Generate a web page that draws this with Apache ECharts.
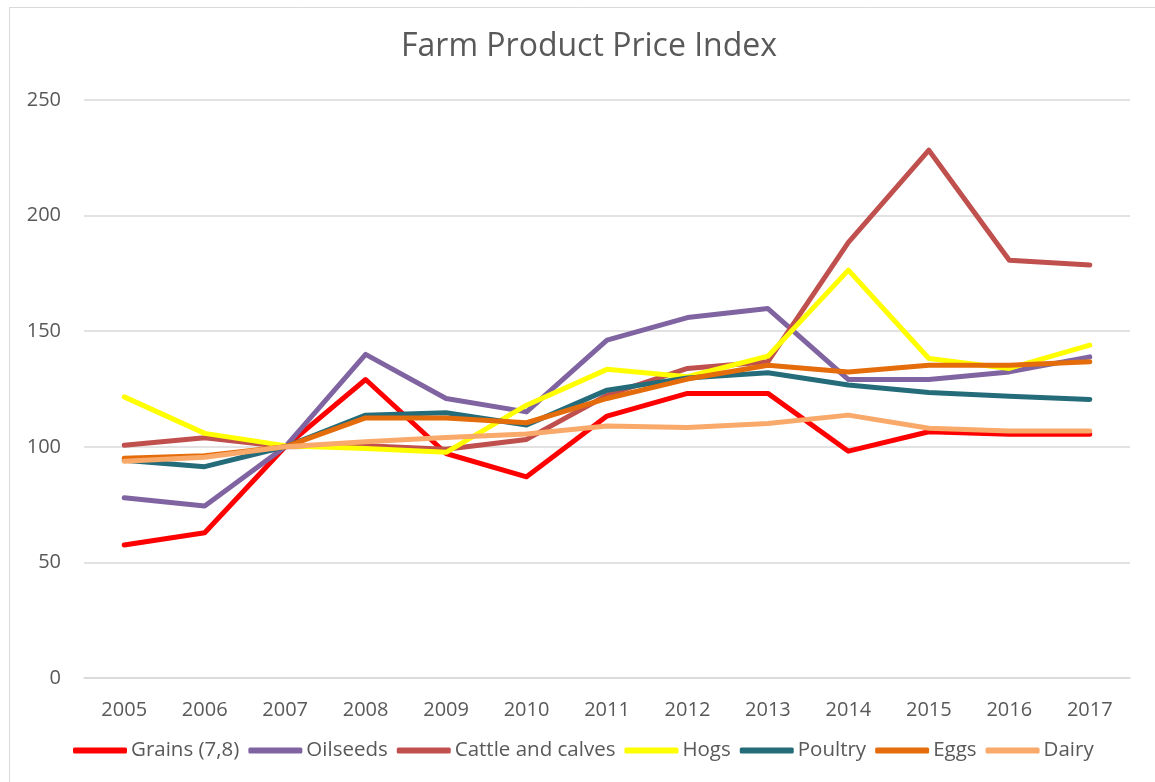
<!DOCTYPE html>
<html>
<head>
<meta charset="utf-8">
<script src="https://cdn.jsdelivr.net/npm/echarts@6/dist/echarts.min.js"></script>
<style>
html,body{margin:0;padding:0;background:#fff;}
#chart{width:1155px;height:782px;}
</style>
</head>
<body>
<div id="chart"></div>
<script>
const years = ['2005','2006','2007','2008','2009','2010','2011','2012','2013','2014','2015','2016','2017'];
const grains   = [57.5, 62.8, 100, 129.1, 97.1, 87.0, 113.3, 123.1, 123.1, 98.1, 106.5, 105.4, 105.4];
const oilseeds = [78.0, 74.4, 100, 140.0, 120.9, 115.1, 146.1, 155.9, 159.8, 129.1, 129.1, 132.4, 138.9];
const cattle   = [100.7, 103.9, 100, 100.5, 98.9, 103.2, 122.3, 133.9, 136.8, 188.4, 228.3, 180.7, 178.6];
const hogs     = [121.6, 105.8, 100.5, 99.3, 97.6, 118.0, 133.5, 130.3, 139.2, 176.4, 138.2, 133.9, 144.0];
const poultry  = [94.2, 91.4, 100, 113.7, 114.7, 109.4, 124.5, 129.8, 132.0, 126.7, 123.5, 121.9, 120.5];
const eggs     = [95.0, 96.1, 100, 112.5, 112.5, 110.4, 120.9, 129.3, 135.3, 132.4, 135.3, 135.3, 136.8];
const dairy    = [93.8, 95.5, 100, 102.2, 104.0, 105.5, 109.0, 108.4, 110.1, 113.7, 108.0, 106.8, 106.8];
const yTicks = [0, 50, 100, 150, 200, 250];

const seriesDefs = [
  {name: 'Grains (7,8)', data: grains, color: '#FF0000'},
  {name: 'Oilseeds', data: oilseeds, color: '#8064A2'},
  {name: 'Cattle and calves', data: cattle, color: '#C0504D'},
  {name: 'Hogs', data: hogs, color: '#FFFF00'},
  {name: 'Poultry', data: poultry, color: '#256C7A'},
  {name: 'Eggs', data: eggs, color: '#E46C0A'},
  {name: 'Dairy', data: dairy, color: '#F9A96A'}
];

const font = 'Open Sans';
const chart = echarts.init(document.getElementById('chart'), null, {renderer: 'canvas'});
chart.setOption({
  animation: false,
  backgroundColor: '#fff',
  textStyle: {fontFamily: font},
  graphic: [{
    type: 'rect', left: 7, top: 5, z: -1,
    shape: {width: 1160, height: 800},
    style: {fill: 'none', stroke: '#d9d9d9', lineWidth: 1}
  }],
  title: {
    text: 'Farm Product Price Index',
    left: 396, top: 26,
    textStyle: {fontFamily: font, fontSize: 32, fontWeight: 'normal', color: '#595959'}
  },
  grid: {left: 84, right: 25, top: 100, bottom: 104, containLabel: false},
  legend: {
    data: seriesDefs.map(s => ({name: s.name, icon: 'roundRect'})),
    left: 68, top: 735,
    itemWidth: 54, itemHeight: 6, itemGap: 9,
    textStyle: {fontFamily: font, fontSize: 20.5, color: '#595959', padding: [0, 0, 0, -1]}
  },
  xAxis: {
    type: 'category', data: years, boundaryGap: true,
    axisLine: {show: true, lineStyle: {color: '#d9d9d9', width: 1.5}},
    axisTick: {show: false},
    axisLabel: {fontFamily: font, fontSize: 20, color: '#595959', margin: 22}
  },
  yAxis: {
    type: 'value', min: yTicks[0], max: yTicks[yTicks.length - 1], interval: 50,
    axisLine: {show: false}, axisTick: {show: false},
    splitLine: {lineStyle: {color: '#d9d9d9', width: 1.5}},
    axisLabel: {fontFamily: font, fontSize: 20, color: '#595959', margin: 23}
  },
  series: seriesDefs.map(s => ({
    name: s.name, type: 'line', data: s.data,
    symbol: 'none', color: s.color,
    itemStyle: {color: s.color},
    lineStyle: {color: s.color, width: 5, cap: 'round', join: 'round'}
  }))
});
</script>
</body>
</html>
